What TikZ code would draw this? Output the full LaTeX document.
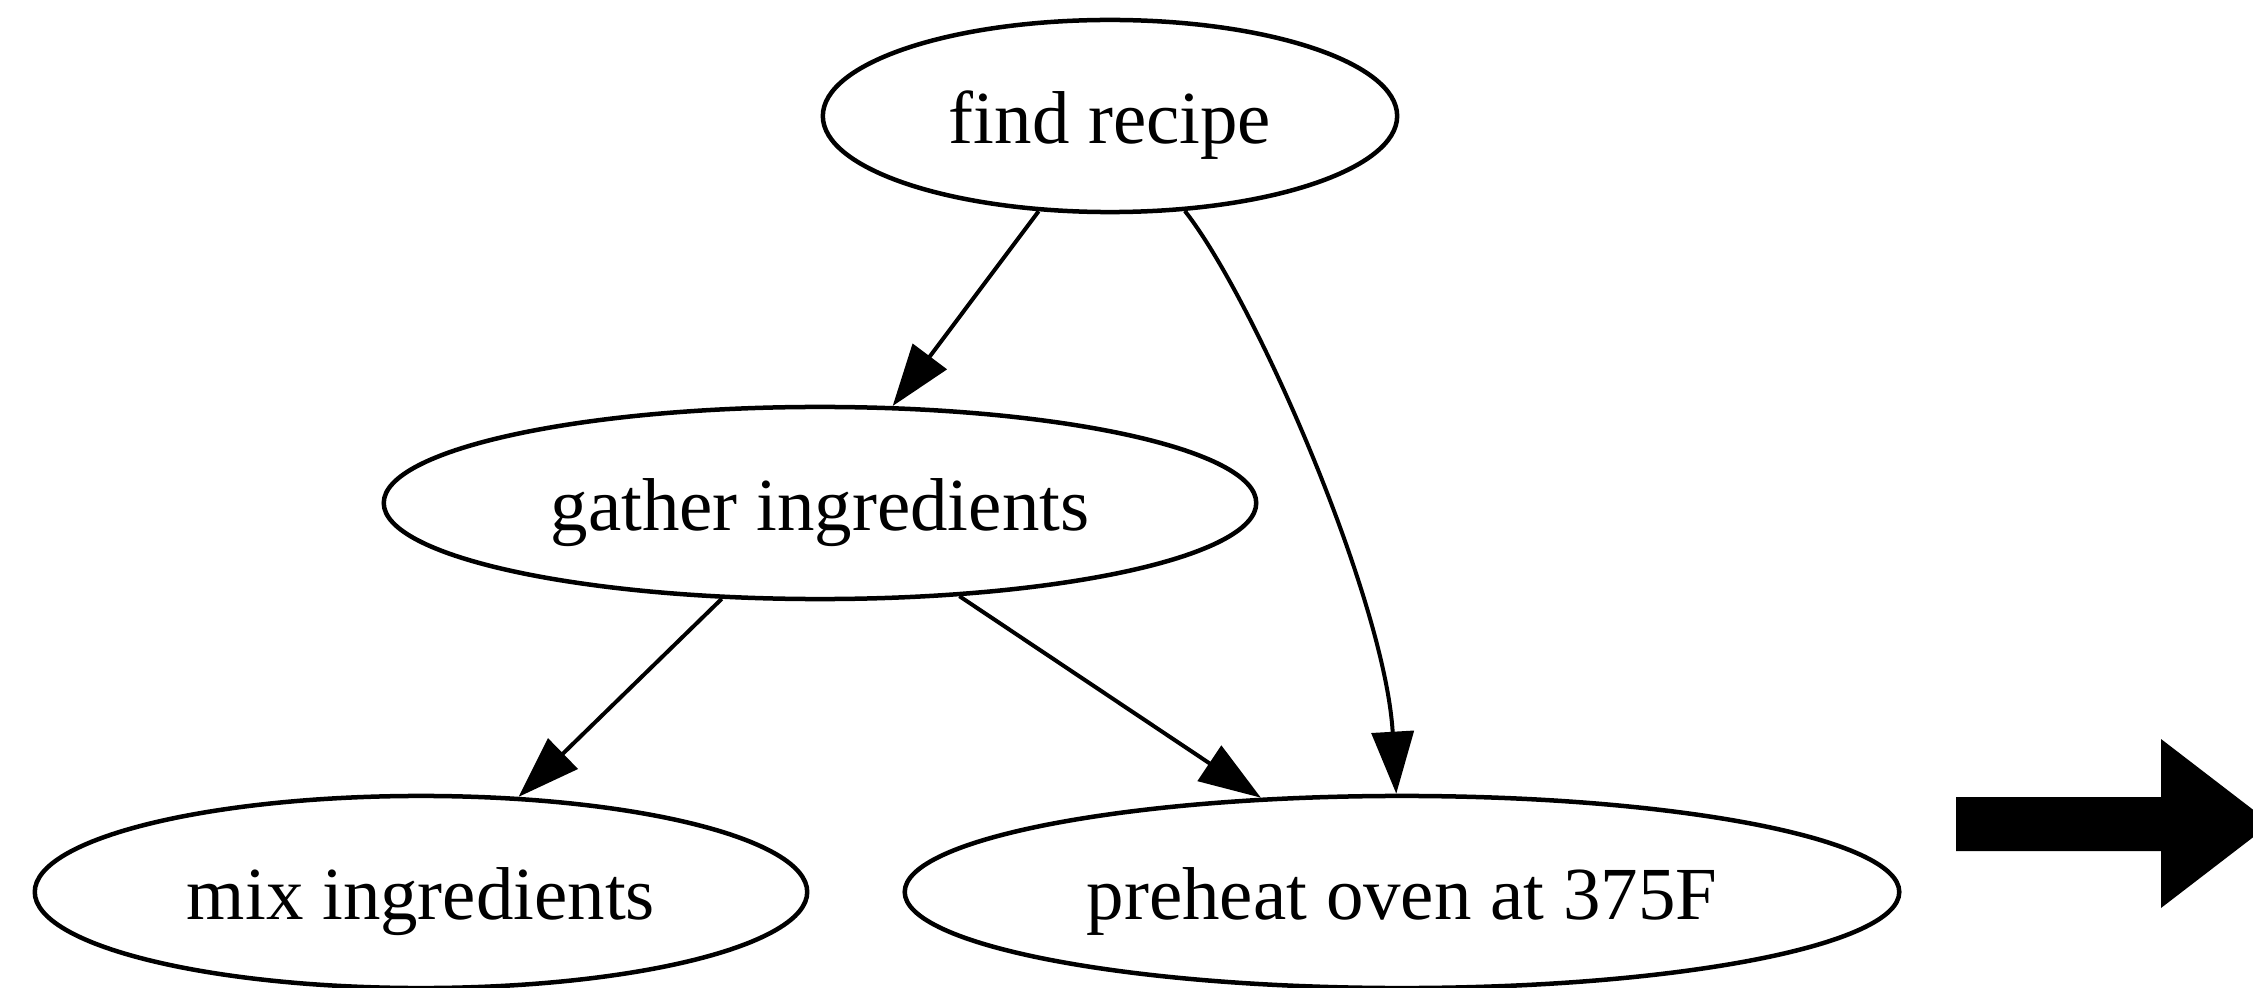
\documentclass[tikz,border=0pt]{standalone}
\usepackage{fontspec}
\setmainfont{Liberation Serif}
\usetikzlibrary{arrows.meta,shapes.geometric}
\begin{document}
\begin{tikzpicture}[x=0.01cm,y=-0.01cm,
  task/.style={ellipse, draw, line width=0.045cm, inner sep=0pt,
    minimum height=1.92cm, font=\fontsize{21.3}{25}\selectfont,
    text height=0.62cm, text depth=0.08cm},
  flow/.style={line width=0.04cm, -{Triangle[length=0.62cm,width=0.42cm]}}]
% page frame
\clip (0,0) rectangle (2253,988);
\fill[white] (0,0) rectangle (2253,988);

% recipe steps
\node[task, minimum width=5.74cm] (find)   at (1110,116) {find recipe};
\node[task, minimum width=8.72cm] (gather) at (820,503)  {gather ingredients};
\node[task, minimum width=7.72cm] (mix)    at (421,892)  {mix ingredients};
\node[task, minimum width=9.94cm] (oven)   at (1402,892) {preheat oven at 375F};

% dependencies
\draw[flow] (find) -- (gather);
\draw[flow] (gather) -- (mix);
\draw[flow] (gather) -- (oven);
\draw[flow] (find) .. controls (1255,300) and (1385,600) .. (oven);

% block arrow on the right
\fill (1956,797) -- (2161,797) -- (2161,739) -- (2271,823.5)
  -- (2161,908) -- (2161,851) -- (1956,851) -- cycle;
\end{tikzpicture}
\end{document}
